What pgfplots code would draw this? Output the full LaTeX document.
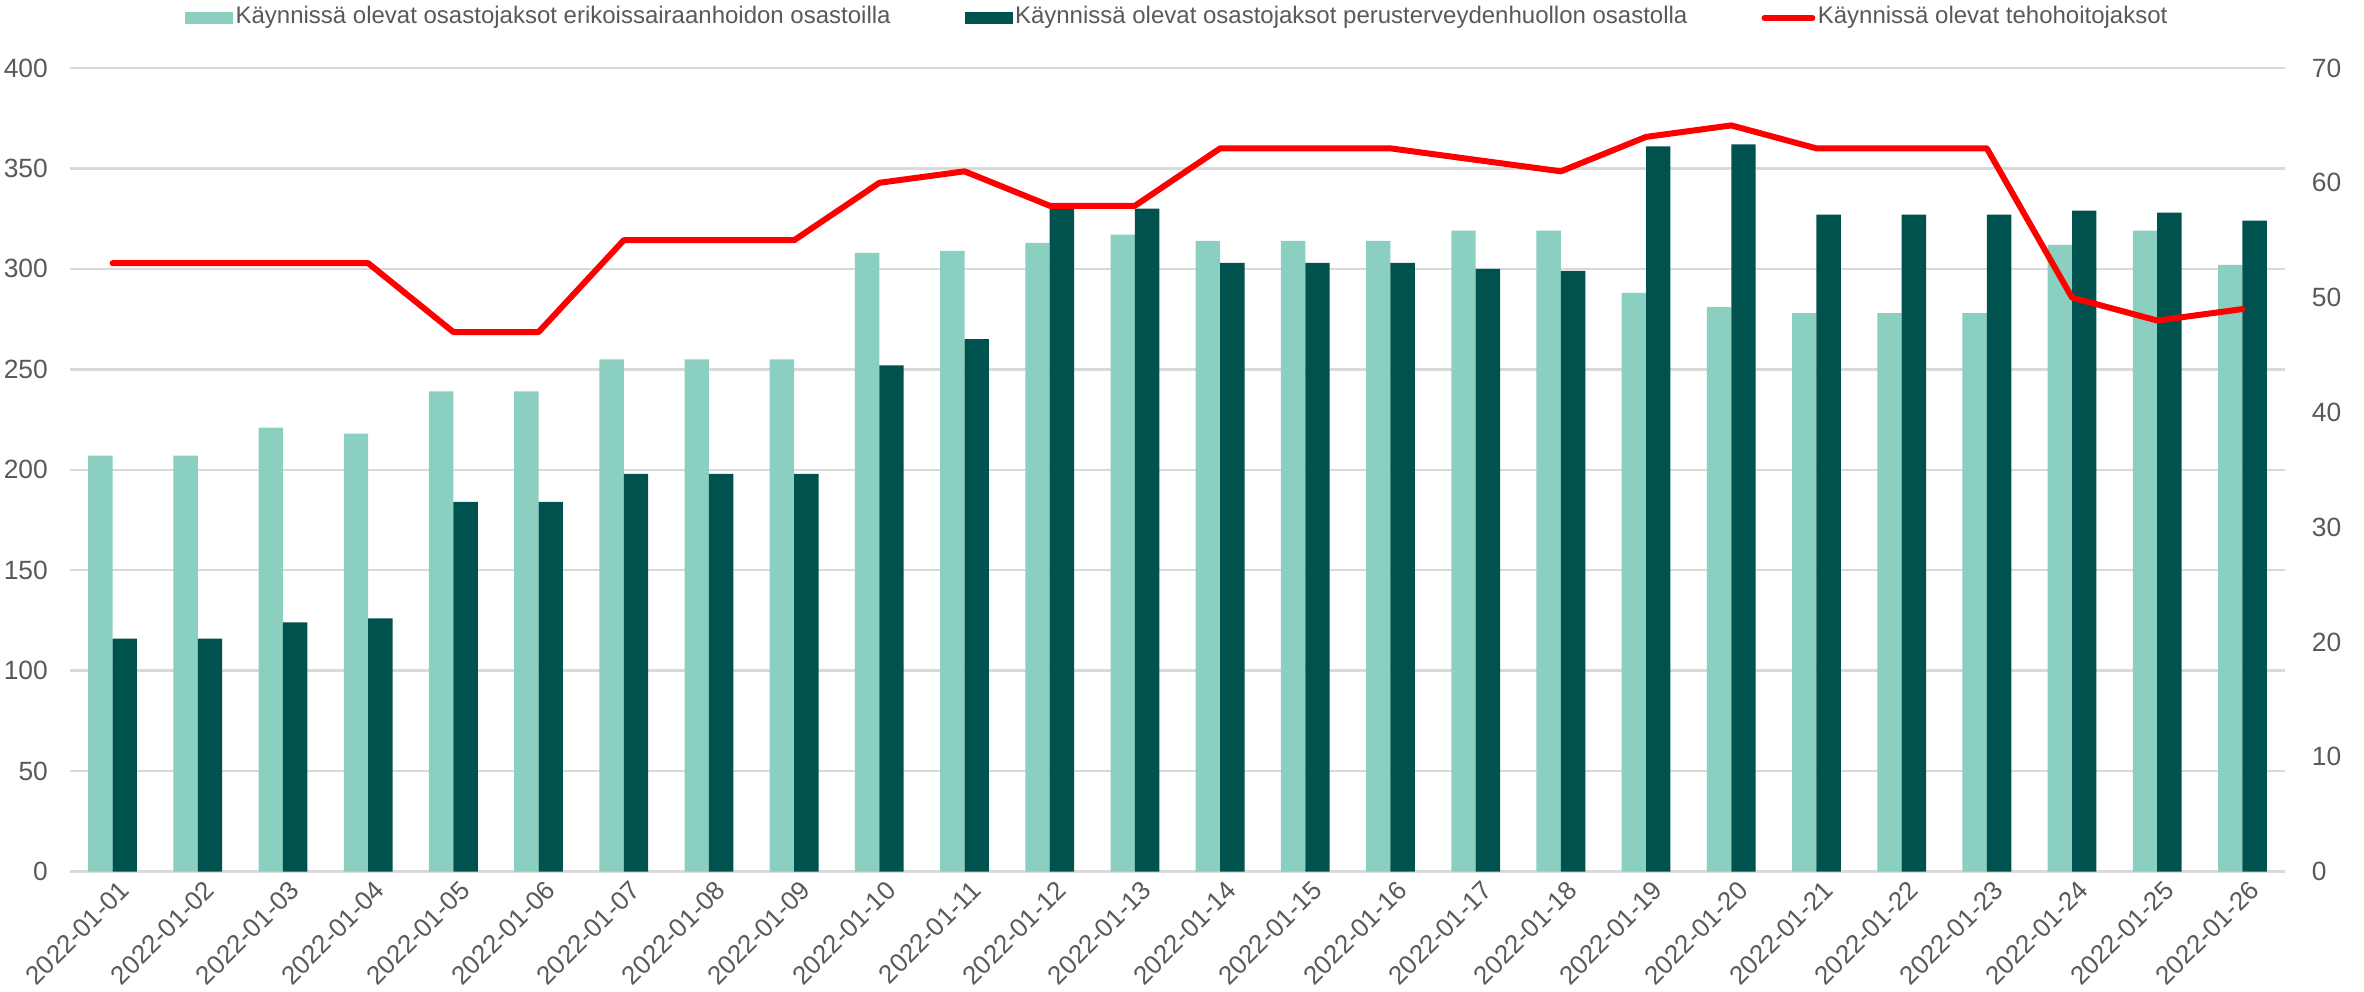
\documentclass[border=0pt]{standalone}
\usepackage{pgfplots}
\usepackage{pgfplotstable}
\pgfplotsset{compat=1.18}
\usepackage{fontspec}
\setmainfont{Liberation Sans}
\definecolor{lightg}{HTML}{8ACFC0}
\definecolor{darkg}{HTML}{00524E}
\definecolor{txt}{HTML}{595959}
\definecolor{gridc}{HTML}{D9D9D9}
\definecolor{redl}{HTML}{FF0000}

\pgfplotstableread{
idx light dark ico
0 207 116 53
1 207 116 53
2 221 124 53
3 218 126 53
4 239 184 47
5 239 184 47
6 255 198 55
7 255 198 55
8 255 198 55
9 308 252 60
10 309 265 61
11 313 331 58
12 317 330 58
13 314 303 63
14 314 303 63
15 314 303 63
16 319 300 62
17 319 299 61
18 288 361 64
19 281 362 65
20 278 327 63
21 278 327 63
22 278 327 63
23 312 329 50
24 319 328 48
25 302 324 49
}\data

\pgfplotsset{
  common/.style={
    scale only axis, width=553.75pt, height=200.9pt,
    xmin=-0.5, xmax=25.5,
    axis line style={draw=none},
    major tick length=0pt,
    tick label style={font=\fontsize{6.6}{7.6}\selectfont, text=txt},
    /pgf/number format/assume math mode=true,
  }
}

\begin{document}
\begin{tikzpicture}
\begin{axis}[common, name=main,
  ymin=0, ymax=400, ytick={0,50,...,400},
  ymajorgrids, grid style={draw=gridc, line width=0.6pt},
  yticklabel style={xshift=-2pt},
  xtick={0,...,25},
  xticklabels={2022-01-01,2022-01-02,2022-01-03,2022-01-04,2022-01-05,2022-01-06,2022-01-07,2022-01-08,2022-01-09,2022-01-10,2022-01-11,2022-01-12,2022-01-13,2022-01-14,2022-01-15,2022-01-16,2022-01-17,2022-01-18,2022-01-19,2022-01-20,2022-01-21,2022-01-22,2022-01-23,2022-01-24,2022-01-25,2022-01-26},
  xticklabel style={font=\fontsize{6.5}{7.5}\selectfont, xshift=1.3pt, yshift=-1.7pt, rotate=45, anchor=north east, inner sep=0pt},
  legend columns=-1,
  legend style={at={(axis description cs:0.5,1.0623)}, anchor=center, draw=none, fill=none,
    font=\fontsize{6}{7}\selectfont, text=txt, inner sep=0pt,
    nodes={inner sep=0.6pt},
    /tikz/every even column/.append style={column sep=17.9pt}},
  legend image code/.code={\fill[#1] (0pt,-1.5pt) rectangle (12pt,1.5pt);},
]
\addplot[ybar, bar width=6.1pt, bar shift=-3.05pt, fill=lightg, draw=none] table[x=idx, y=light] {\data};
\addlegendentry{Käynnissä olevat osastojaksot erikoissairaanhoidon osastoilla}
\addplot[ybar, bar width=6.1pt, bar shift=3.05pt, fill=darkg, draw=none] table[x=idx, y=dark] {\data};
\addlegendentry{Käynnissä olevat osastojaksot perusterveydenhuollon osastolla}
\addlegendimage{legend image code/.code={\draw[redl, line width=1.5pt, line cap=round] (0pt,0pt) -- (12pt,0pt);}}
\addlegendentry{Käynnissä olevat tehohoitojaksot}
\end{axis}
\begin{axis}[common,
  ymin=0, ymax=70, ytick={0,10,...,70},
  axis y line*=right, axis x line=none,
  yticklabel style={anchor=west, xshift=3.2pt},
]
\addplot[redl, line width=1.5pt, line join=round, line cap=round, mark=none] table[x=idx, y=ico] {\data};
\end{axis}
\pgfresetboundingbox
\path ([xshift=-17.5pt, yshift=-30.1pt]main.south west) rectangle ([xshift=19.75pt, yshift=17pt]main.north east);
\end{tikzpicture}
\end{document}
